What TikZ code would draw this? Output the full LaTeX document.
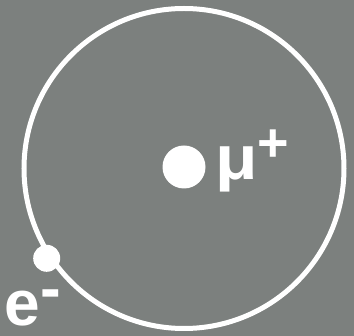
\documentclass[tikz,border=0pt]{standalone}
\usepackage{fontspec}
\setmainfont{Liberation Sans}
\definecolor{bg}{HTML}{7C807E}
\tikzset{
  particle/.style={circle, fill=white, inner sep=0pt},
  lbl/.style={text=white, inner sep=0pt, font=\bfseries},
}
\begin{document}
\begin{tikzpicture}[x=1pt,y=-1pt]
\fill[bg] (0,0) rectangle (354,336);
\useasboundingbox (0,0) rectangle (354,336);
\draw[white, line width=5pt] (184,168.5) circle [radius=160];
\node[particle, minimum size=43pt] (mu) at (184,167) {};
\node[particle, minimum size=27pt] (e) at (46.7,258.3) {};
\node[lbl, font=\bfseries\fontsize{62}{62}\selectfont, anchor=base west] (mulbl) at (215,180) {\scalebox{1.12}[1]{μ}};
\node[lbl, font=\bfseries\fontsize{54}{54}\selectfont, anchor=north] (plus) at (273.3,130) {+};
\node[lbl, font=\bfseries\fontsize{64}{64}\selectfont, anchor=base west] (elbl) at (4,325.5) {e};
\node[lbl, font=\bfseries\fontsize{62}{62}\selectfont, anchor=north] (minus) at (50.5,289.3) {-};
\end{tikzpicture}
\end{document}
